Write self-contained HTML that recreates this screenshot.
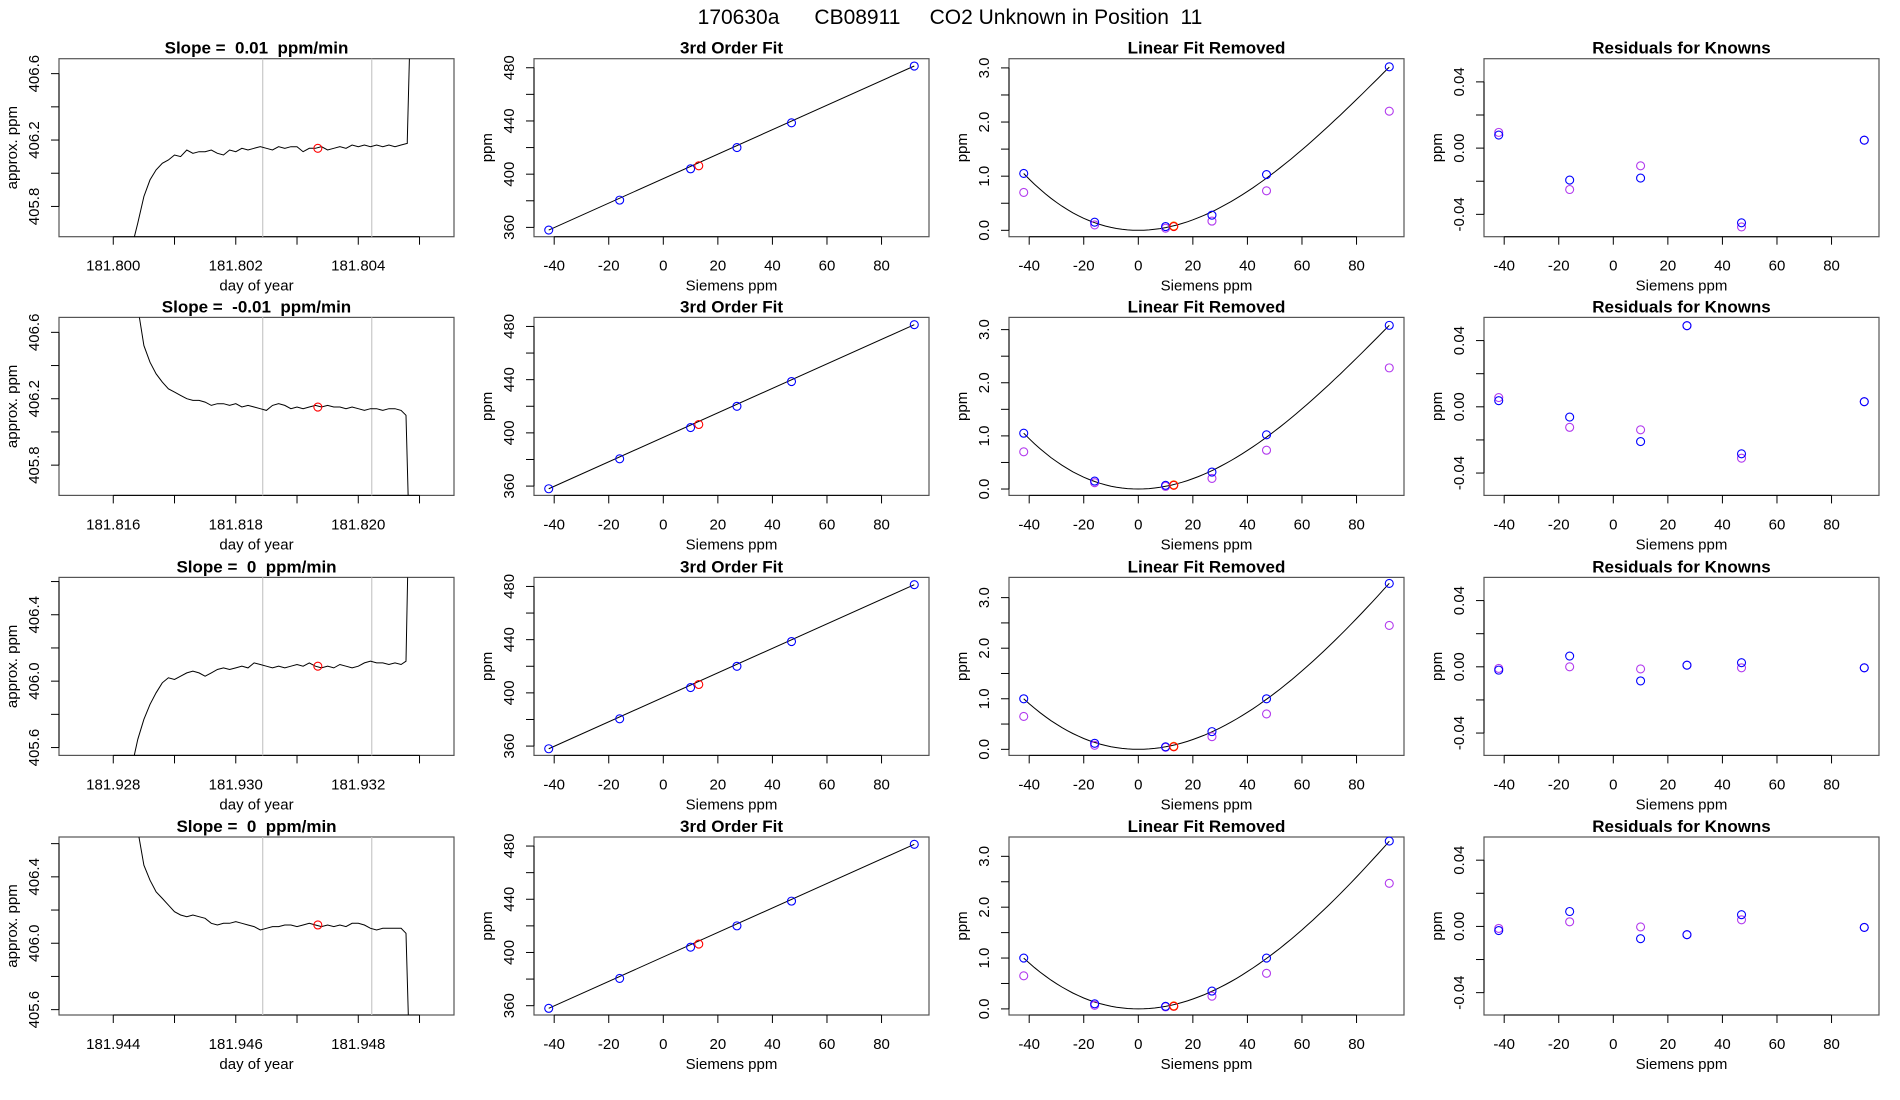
<!DOCTYPE html>
<html><head><meta charset="utf-8"><style>
html,body{margin:0;padding:0;background:#fff;}
svg{display:block;font-family:"Liberation Sans",sans-serif;}
text{white-space:pre;}
</style></head><body>
<svg id="fig" width="1900" height="1100" viewBox="0 0 1900 1100">
<text x="950" y="24" text-anchor="middle" font-size="21" xml:space="preserve">170630a      CB08911     CO2 Unknown in Position  11</text>
</svg>
<script>
// ---- data ----
const rowTop = [58.7, 317.4, 577.4, 837];
const slopeTitles = ["Slope =  0.01  ppm/min","Slope =  -0.01  ppm/min","Slope =  0  ppm/min","Slope =  0  ppm/min"];
const dayStart = [181.800, 181.816, 181.928, 181.944];
const dayTickLabels = [["181.800","181.802","181.804"],["181.816","181.818","181.820"],["181.928","181.930","181.932"],["181.944","181.946","181.948"]];
const ppmTop = [406.69, 406.69, 406.625, 406.64];
const ppmTicks = [[405.8,406.0,406.2,406.4,406.6],[405.8,406.0,406.2,406.4,406.6],[405.6,405.8,406.0,406.2,406.4,406.6],[405.6,405.8,406.0,406.2,406.4,406.6]];
const ppmLabels = [["405.8","406.2","406.6"],["405.8","406.2","406.6"],["405.6","406.0","406.4"],["405.6","406.0","406.4"]];
const grayLineOffsets = [0.00244, 0.00422];
const traceStart = [0.0003, 0.0004, 0.0003, 0.0004];
const traceStep = 0.0001;
const trace1 = [405.55,405.70,405.86,405.96,406.02,406.06,406.08,406.11,406.10,406.14,406.12,406.13,406.13,406.14,406.12,406.11,406.14,406.13,406.15,406.14,406.15,406.16,406.15,406.14,406.16,406.15,406.16,406.16,406.13,406.15,406.15,406.16,406.14,406.15,406.16,406.15,406.17,406.16,406.17,406.16,406.17,406.16,406.17,406.16,406.17,406.18];
const trace2 = [406.75,406.52,406.42,406.35,406.30,406.26,406.24,406.22,406.20,406.19,406.19,406.18,406.16,406.17,406.17,406.16,406.17,406.15,406.16,406.15,406.14,406.13,406.16,406.17,406.16,406.14,406.15,406.14,406.15,406.16,406.15,406.16,406.15,406.15,406.14,406.15,406.14,406.13,406.14,406.14,406.13,406.14,406.14,406.13];
const trace3 = [405.48,405.65,405.77,405.86,405.93,405.99,406.02,406.01,406.03,406.05,406.06,406.05,406.03,406.05,406.07,406.08,406.07,406.08,406.09,406.08,406.11,406.10,406.09,406.08,406.09,406.08,406.09,406.10,406.09,406.11,406.09,406.08,406.09,406.08,406.10,406.09,406.08,406.09,406.11,406.12,406.11,406.11,406.10,406.11,406.10];
const trace4 = [406.68,406.47,406.38,406.31,406.27,406.23,406.19,406.17,406.16,406.17,406.16,406.15,406.12,406.11,406.12,406.12,406.13,406.12,406.11,406.10,406.08,406.09,406.10,406.10,406.11,406.11,406.10,406.11,406.12,406.11,406.10,406.11,406.10,406.11,406.10,406.12,406.12,406.11,406.09,406.08,406.09,406.09,406.09,406.09];
const traces = [trace1, trace2, trace3, trace4];
const traceEndT = [[0.0048,0.00485],[0.00478,0.00483],[0.00478,0.00482],[0.00478,0.00483]];
const traceEndV = [[406.20,406.90],[406.10,405.40],[406.12,406.90],[406.06,405.40]];
const unknownT = 0.00334;
const unknownPpm = [406.15, 406.15, 406.09, 406.11];

const knownX = [-42,-16,10,27,47,92];
const unknownX = 13;
const fitPpm = [[358,380.5,404,420,438.6,481.3],[358,380.5,404,420,438.6,481.3],[358,380.5,404,420,438.6,481.3],[358,380.5,404,420,438.6,481.3]];
const fitUnknown = [406.3,406.3,406.3,406.3];

const linTop = [3.17, 3.23, 3.40, 3.38];
const linBottom = [-0.118,-0.12,-0.12,-0.12];
const linBlue = [[1.05,0.15,0.07,0.28,1.03,3.02],[1.05,0.15,0.07,0.32,1.02,3.08],[1.0,0.12,0.05,0.35,1.0,3.28],[1.0,0.10,0.05,0.35,1.0,3.30]];
const linPurple = [[0.70,0.10,0.04,0.17,0.73,2.20],[0.70,0.12,0.05,0.20,0.73,2.28],[0.65,0.08,0.04,0.25,0.70,2.45],[0.65,0.07,0.04,0.25,0.70,2.47]];
const linUnknown = [0.08,0.08,0.06,0.06];
const curveA = [0.000520,0.0005228,0.000511,0.000511];
const curveB = [-1.78e-6,-1.726e-6,-1.338e-6,-1.321e-6];

const resBlue = [[0.0079,-0.0193,-0.0181,null,-0.0451,0.0048],[0.0037,-0.0062,-0.021,0.049,-0.0284,0.0031],[-0.002,0.0065,-0.0085,0.001,0.0025,-0.0006],[-0.0025,0.009,-0.0074,-0.005,0.0071,-0.0006]];
const resPurple = [[0.0095,-0.025,-0.0107,null,-0.0476,0.0048],[0.0056,-0.0124,-0.0139,0.049,-0.031,0.0031],[-0.001,0,-0.0013,0.001,-0.0006,-0.0006],[-0.0012,0.0028,-0.0003,-0.005,0.004,-0.0006]];

const sieTicks = [-40,-20,0,20,40,60,80];
const fitTicks = [360,380,400,420,440,460,480];
const fitLabels = [360,400,440,480];
const linTicks = [0,0.5,1,1.5,2,2.5,3];
const linLabels = [0,1,2,3];
const resTicks = [-0.04,-0.02,0,0.02,0.04];
const resLabels = [-0.04,0,0.04];

// ---- drawing ----
const NS = "http://www.w3.org/2000/svg";
const svg = document.getElementById('fig');
const BOXH = 178;
const COLX = [59, 534, 1009, 1484];
const BOXW = 395;
function el(tag, attrs, parent, txt){
  const e = document.createElementNS(NS, tag);
  for (const k in attrs) e.setAttribute(k, attrs[k]);
  if (txt !== undefined) e.textContent = txt;
  (parent||svg).appendChild(e);
  return e;
}
function lin(d0,d1,r0,r1){return v => r0 + (v-d0)/(d1-d0)*(r1-r0);}
function fmt(v,dec){return v.toFixed(dec);}

function panel(r,c,title,xs,ys,xTicks,xLabelsVals,xLabelsText,yTicks,yLabelVals,yLabelText,xTitle,yTitle){
  const top=rowTop[r], left=COLX[c];
  const g = el('g',{});
  
  
  const t = el('text',{x:left+BOXW/2,y:top-5,'text-anchor':'middle','font-size':17,'font-weight':'bold'},g,title);
  
  
  const b = el('rect',{x:left,y:top,width:BOXW,height:BOXH,fill:'none',stroke:'#555','stroke-width':1.2},g);
  
  
  const bot = top+BOXH;
  xTicks.forEach(v=>{
    const x = xs(v);
    const tk = el('line',{x1:x,x2:x,y1:bot,y2:bot+8,stroke:'#000'},g);
    
    
  });
  el('line',{x1:xs(xTicks[0]),x2:xs(xTicks[xTicks.length-1]),y1:bot,y2:bot,stroke:'#000'},g);
  xLabelsVals.forEach((v,i)=>{
    const tl = el('text',{x:xs(v),y:bot+34,'text-anchor':'middle','font-size':15},g,xLabelsText[i]);
    
    
  });
  const xt = el('text',{x:left+BOXW/2,y:bot+54,'text-anchor':'middle','font-size':15},g,xTitle);
  
  
  yTicks.forEach(v=>{
    const y = ys(v);
    const tk = el('line',{x1:left-8,x2:left,y1:y,y2:y,stroke:'#000'},g);
    
    
  });
  el('line',{x1:left,x2:left,y1:ys(yTicks[0]),y2:ys(yTicks[yTicks.length-1]),stroke:'#000'},g);
  yLabelVals.forEach((v,i)=>{
    const y = ys(v), x = left-20;
    const tl = el('text',{x:x,y:y,'text-anchor':'middle','font-size':15,transform:'rotate(-90 '+x+' '+y+')'},g,yLabelText[i]);
    
    
  });
  const yx = left-42, yy = top+BOXH/2;
  const yt = el('text',{x:yx,y:yy,'text-anchor':'middle','font-size':15,transform:'rotate(-90 '+yx+' '+yy+')'},g,yTitle);
  
  
  return g;
}
function circle(g,x,y,col,name){
  const c = el('circle',{cx:x,cy:y,r:4,fill:'none',stroke:col,'stroke-width':1.1},g);
  
  
}
function clipFor(r,c){
  const id='clip'+r+'_'+c;
  const cp = el('clipPath',{id:id});
  el('rect',{x:COLX[c],y:rowTop[r],width:BOXW,height:BOXH},cp);
  return 'url(#'+id+')';
}

const BLUE='#0000ff', PURPLE='#b23aee', RED='#ff0000', ORANGE='#ff8c00';
for (let r=0;r<4;r++){
  const top=rowTop[r], bot=top+BOXH;
  {
    const T0=dayStart[r];
    const xs = lin(T0-0.000886, T0+0.005563, COLX[0], COLX[0]+BOXW);
    const ys = lin(ppmTop[r]-BOXH/166, ppmTop[r], bot, top);
    const tks=[0,0.001,0.002,0.003,0.004,0.005].map(d=>T0+d);
    const g = panel(r,0,slopeTitles[r],xs,ys,tks,[T0,T0+0.002,T0+0.004],dayTickLabels[r],ppmTicks[r],ppmLabels[r].map(Number),ppmLabels[r],'day of year','approx. ppm');
    grayLineOffsets.forEach(o=>{
      const l = el('line',{x1:xs(T0+o),x2:xs(T0+o),y1:top,y2:bot,stroke:'#c8c8c8','stroke-width':1.2},g);
      
      
    });
    const pts = traces[r].map((v,i)=>xs(T0+traceStart[r]+i*traceStep).toFixed(1)+','+ys(v).toFixed(1));
    traceEndT[r].forEach((t,i)=>pts.push(xs(T0+t).toFixed(1)+','+ys(traceEndV[r][i]).toFixed(1)));
    const pl = el('polyline',{points:pts.join(' '),fill:'none',stroke:'#000','stroke-width':1,'clip-path':clipFor(r,0)},g);
    
    
    circle(g,xs(T0+unknownT),ys(unknownPpm[r]),RED,'unknown-point');
  }
  const xsC = c => lin(-47.4,97.4,COLX[c],COLX[c]+BOXW);
  {
    const xs=xsC(1), ys=lin(353,486.8,bot,top);
    const g = panel(r,1,'3rd Order Fit',xs,ys,sieTicks,sieTicks,sieTicks.map(String),fitTicks,fitLabels,fitLabels.map(String),'Siemens ppm','ppm');
    const x0=knownX[0], x1=knownX[knownX.length-1];
    const fl = el('line',{x1:xs(x0),y1:ys(fitPpm[r][0]),x2:xs(x1),y2:ys(fitPpm[r][5]),stroke:'#000','stroke-width':1},g);
    
    
    knownX.forEach((x,i)=>circle(g,xs(x),ys(fitPpm[r][i]),BLUE,'known-point'));
    circle(g,xs(unknownX),ys(fitUnknown[r]),RED,'unknown-point');
  }
  {
    const xs=xsC(2), ys=lin(linBottom[r],linTop[r],bot,top);
    const g = panel(r,2,'Linear Fit Removed',xs,ys,sieTicks,sieTicks,sieTicks.map(String),linTicks,linLabels,linLabels.map(v=>fmt(v,1)),'Siemens ppm','ppm');
    const pts=[];
    for(let x=-42;x<=92;x+=2){ pts.push(xs(x).toFixed(1)+','+ys(curveA[r]*x*x+curveB[r]*x*x*x).toFixed(1)); }
    const cv = el('polyline',{points:pts.join(' '),fill:'none',stroke:'#000','stroke-width':1},g);
    
    
    knownX.forEach((x,i)=>circle(g,xs(x),ys(linPurple[r][i]),PURPLE,'known-point-purple'));
    knownX.forEach((x,i)=>circle(g,xs(x),ys(linBlue[r][i]),BLUE,'known-point-blue'));
    circle(g,xs(unknownX),ys(linUnknown[r]),ORANGE,'unknown-point-orange');
    circle(g,xs(unknownX),ys(linUnknown[r]-0.01),RED,'unknown-point');
  }
  {
    const xs=xsC(3), ys=lin(-0.0535,0.054,bot,top);
    const g = panel(r,3,'Residuals for Knowns',xs,ys,sieTicks,sieTicks,sieTicks.map(String),resTicks,resLabels,resLabels.map(v=>fmt(v,2)),'Siemens ppm','ppm');
    knownX.forEach((x,i)=>{ if(resPurple[r][i]!==null) circle(g,xs(x),ys(resPurple[r][i]),PURPLE,'residual-purple'); });
    knownX.forEach((x,i)=>{ if(resBlue[r][i]!==null) circle(g,xs(x),ys(resBlue[r][i]),BLUE,'residual-blue'); });
  }
}
</script>
</body></html>
